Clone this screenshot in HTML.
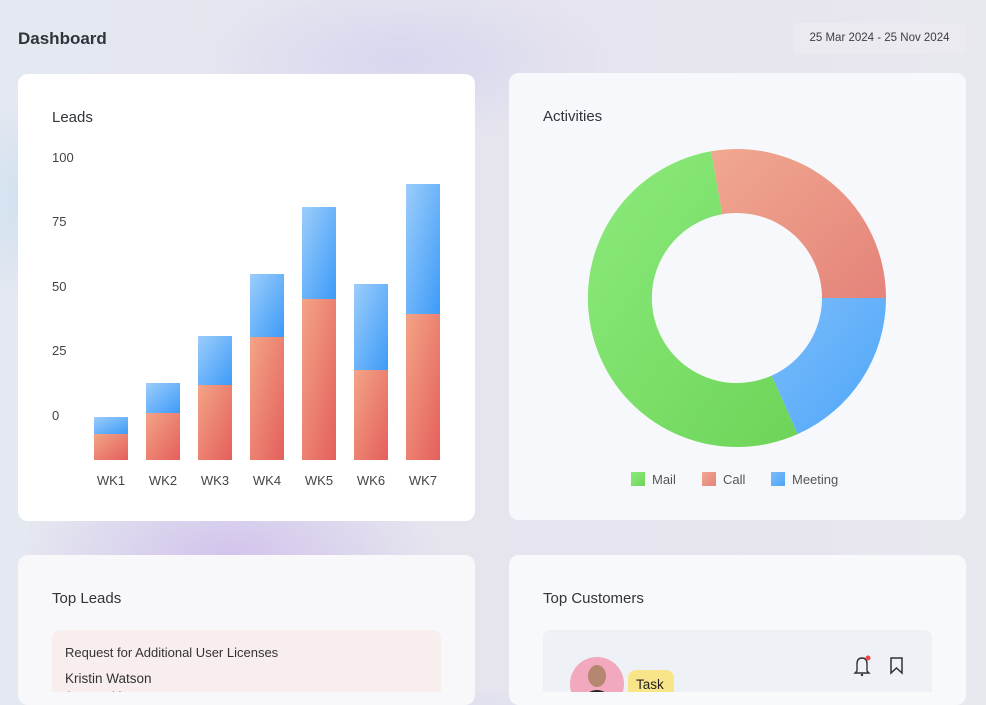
<!DOCTYPE html>
<html><head><meta charset="utf-8">
<style>
*{margin:0;padding:0;box-sizing:border-box}
body{width:986px;height:692px;overflow:hidden;font-family:"Liberation Sans",sans-serif;color:#2b2f36;
background:
radial-gradient(ellipse 260px 200px at 300px 330px, rgba(200,185,235,0.75), transparent 70%),
radial-gradient(ellipse 300px 160px at 230px 560px, rgba(205,185,235,0.8), transparent 70%),
radial-gradient(ellipse 200px 150px at 60px 200px, rgba(195,220,240,0.7), transparent 70%),
radial-gradient(ellipse 300px 120px at 400px 60px, rgba(205,205,240,0.6), transparent 70%),
linear-gradient(90deg,#e4e8f0,#e6e4ee 60%,#e8e8ef);position:relative}
.h{position:absolute;left:18px;top:29px;font-size:17px;font-weight:bold;color:#30343b}
.date{position:absolute;left:793px;top:23px;width:173px;height:31px;background:#eceaf1;border-radius:6px;font-size:11.5px;color:#3a3e45;text-align:center;line-height:31px}
.card{position:absolute;background:#fff;border-radius:10px}
.t{position:absolute;font-size:15px;color:#30343b}
.ax{position:absolute;font-size:13px;color:#444}
</style></head><body>
<div class="h">Dashboard</div>
<div class="date">25 Mar 2024 - 25 Nov 2024</div>

<div class="card" style="left:18px;top:74px;width:457px;height:447px;background:#fff"></div>
<div class="card" style="left:509px;top:73px;width:457px;height:447px;background:#f7f8fb"></div>
<div class="card" style="left:18px;top:555px;width:457px;height:150px;background:#f8f8fb"></div>
<div class="card" style="left:509px;top:555px;width:457px;height:150px;background:#f8f9fb"></div>

<div class="t" style="left:52px;top:109px">Leads</div>
<div class="t" style="left:543px;top:108px">Activities</div>
<div class="t" style="left:52px;top:590px">Top Leads</div>
<div class="t" style="left:543px;top:590px">Top Customers</div>

<div class="ax" style="left:52px;top:150px">100</div>
<div class="ax" style="left:52px;top:214px">75</div>
<div class="ax" style="left:52px;top:279px">50</div>
<div class="ax" style="left:52px;top:343px">25</div>
<div class="ax" style="left:52px;top:408px">0</div>

<svg style="position:absolute;left:0;top:0" width="986" height="692">
<defs>
<linearGradient id="r" x1="0" y1="0" x2="1" y2="1"><stop offset="0" stop-color="#f3a486"/><stop offset="1" stop-color="#e45f5c"/></linearGradient>
<linearGradient id="b" x1="0" y1="0" x2="1" y2="1"><stop offset="0" stop-color="#9ccdfb"/><stop offset="1" stop-color="#3d9bf8"/></linearGradient>
<linearGradient id="g" x1="0" y1="0" x2="1" y2="1"><stop offset="0" stop-color="#8ceb7c"/><stop offset="1" stop-color="#6dd458"/></linearGradient>
<linearGradient id="c" x1="0" y1="0" x2="1" y2="1"><stop offset="0" stop-color="#f0a890"/><stop offset="1" stop-color="#e5837a"/></linearGradient>
<linearGradient id="m" x1="0" y1="0" x2="1" y2="1"><stop offset="0" stop-color="#7cbcfb"/><stop offset="1" stop-color="#4da6f8"/></linearGradient>
</defs>
<g>
<rect x="94" y="417" width="34" height="17" fill="url(#b)"/><rect x="94" y="434" width="34" height="26" fill="url(#r)"/>
<rect x="146" y="383" width="34" height="30" fill="url(#b)"/><rect x="146" y="413" width="34" height="47" fill="url(#r)"/>
<rect x="198" y="336" width="34" height="49" fill="url(#b)"/><rect x="198" y="385" width="34" height="75" fill="url(#r)"/>
<rect x="250" y="274" width="34" height="63" fill="url(#b)"/><rect x="250" y="337" width="34" height="123" fill="url(#r)"/>
<rect x="302" y="207" width="34" height="92" fill="url(#b)"/><rect x="302" y="299" width="34" height="161" fill="url(#r)"/>
<rect x="354" y="284" width="34" height="86" fill="url(#b)"/><rect x="354" y="370" width="34" height="90" fill="url(#r)"/>
<rect x="406" y="184" width="34" height="130" fill="url(#b)"/><rect x="406" y="314" width="34" height="146" fill="url(#r)"/>
</g>
<g font-size="13" fill="#444" text-anchor="middle" font-family="Liberation Sans,sans-serif">
<text x="111" y="485">WK1</text><text x="163" y="485">WK2</text><text x="215" y="485">WK3</text><text x="267" y="485">WK4</text><text x="319" y="485">WK5</text><text x="371" y="485">WK6</text><text x="423" y="485">WK7</text>
</g>
<path d="M711,151.3 A149,149 0 0 1 886,298 L822,298 A85,85 0 0 0 722.2,214.3 Z" fill="url(#c)"/>
<path d="M886,298 A149,149 0 0 1 797.6,434.1 L771.6,375.6 A85,85 0 0 0 822,298 Z" fill="url(#m)"/>
<path d="M797.6,434.1 A149,149 0 1 1 711,151.3 L722.2,214.3 A85,85 0 1 0 771.6,375.6 Z" fill="url(#g)"/>
<g font-size="13" fill="#555" font-family="Liberation Sans,sans-serif">
<rect x="631" y="472" width="14" height="14" fill="url(#g)"/><text x="652" y="484">Mail</text>
<rect x="702" y="472" width="14" height="14" fill="url(#c)"/><text x="723" y="484">Call</text>
<rect x="771" y="472" width="14" height="14" fill="url(#m)"/><text x="792" y="484">Meeting</text>
</g>
<rect x="52" y="630" width="389" height="80" rx="8" fill="#f8eeee"/>
<text x="65" y="657" font-size="13" fill="#333" font-family="Liberation Sans,sans-serif">Request for Additional User Licenses</text>
<text x="65" y="683" font-size="13.5" fill="#333" font-family="Liberation Sans,sans-serif">Kristin Watson</text>
<text x="65" y="700" font-size="12" fill="#666" font-family="Liberation Sans,sans-serif">Account Manager</text>
<rect x="543" y="630" width="389" height="80" rx="8" fill="#eef1f5"/>
<circle cx="597" cy="684" r="27" fill="#f2a9bd"/>
<ellipse cx="597" cy="676" rx="9" ry="11" fill="#b58670"/>
<path d="M580,700 Q597,680 614,700 Z" fill="#2a2523"/>
<rect x="628" y="670" width="46" height="30" rx="8" fill="#f8e58a"/>
<text x="636" y="689" font-size="13.5" fill="#222" font-family="Liberation Sans,sans-serif">Task</text>
<path d="M857,671 L857,664 Q857,658 862,658 Q867,658 867,664 L867,671 L869,673 L855,673 Z" fill="none" stroke="#333" stroke-width="1.4"/>
<circle cx="862" cy="675" r="1.2" fill="#333"/>
<circle cx="868" cy="658" r="2.5" fill="#f04848"/>
<path d="M891,658 L902,658 L902,673 L896.5,668 L891,673 Z" fill="none" stroke="#333" stroke-width="1.5"/>
</svg>
</body></html>
